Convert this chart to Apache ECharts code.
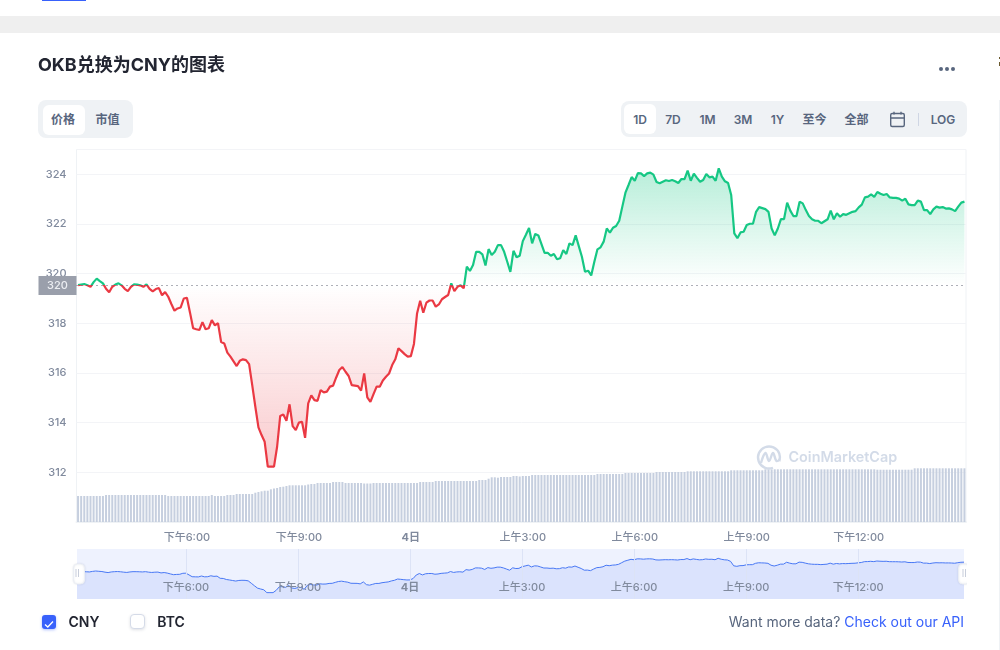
<!DOCTYPE html>
<html lang="zh">
<head>
<meta charset="utf-8">
<title>OKB兑换为CNY的图表</title>
<script src="https://cdn.jsdelivr.net/npm/echarts@6/dist/echarts.min.js"></script>
<style>
html,body{margin:0;padding:0;background:#fff;width:1000px;height:650px;overflow:hidden;font-family:Inter,"Noto Sans CJK SC",sans-serif;}
#chart{position:absolute;left:0;top:0;width:1000px;height:650px;}
.abs{position:absolute;}
.t{position:absolute;transform:translate(-50%,-50%);font-size:12px;font-weight:600;color:#58667e;white-space:nowrap;line-height:1;}
</style>
</head>
<body>
<div class="abs" style="left:42px;top:0;width:44px;height:1px;background:#3861fb"></div>
<div class="abs" style="left:0;top:16px;width:1000px;height:17px;background:#efefef"></div>
<div id="chart"></div>

<div class="abs" style="left:967px;top:555px;width:20px;height:40px;background:#fff"></div>
<div class="abs" style="left:939px;top:67px;width:4px;height:4px;border-radius:50%;background:#58667e"></div>
<div class="abs" style="left:945px;top:67px;width:4px;height:4px;border-radius:50%;background:#58667e"></div>
<div class="abs" style="left:951px;top:67px;width:4px;height:4px;border-radius:50%;background:#58667e"></div>
<div class="abs" style="left:999px;top:100px;width:1px;height:550px;background:#eff2f5"></div>
<div class="abs" style="left:999px;top:57px;width:1px;height:2px;background:#6b5a2e"></div>
<div class="abs" style="left:999px;top:62px;width:1px;height:4px;background:#6b5a2e"></div>

<div class="abs" style="left:38px;top:100px;width:95px;height:38px;border-radius:8px;background:#eff2f5"></div>
<div class="abs" style="left:43px;top:105px;width:42px;height:30px;border-radius:6px;background:#fff"></div>
<div class="t" style="left:63px;top:120px">价格</div>
<div class="t" style="left:107.5px;top:120px">市值</div>

<div class="abs" style="left:621px;top:101px;width:346px;height:36px;border-radius:8px;background:#eff2f5"></div>
<div class="abs" style="left:624px;top:104px;width:32px;height:30px;border-radius:6px;background:#fff"></div>
<div class="t" style="left:640px;top:120px">1D</div>
<div class="t" style="left:673px;top:120px">7D</div>
<div class="t" style="left:707.5px;top:120px">1M</div>
<div class="t" style="left:743px;top:120px">3M</div>
<div class="t" style="left:777.5px;top:120px">1Y</div>
<div class="t" style="left:814.5px;top:120px">至今</div>
<div class="t" style="left:856.5px;top:120px">全部</div>
<svg class="abs" style="left:889px;top:111px" width="17" height="17" viewBox="0 0 17 17" fill="none" stroke="#58667e" stroke-width="1.4"><rect x="1.7" y="2.5" width="13.6" height="13" rx="1.5"/><path d="M1.7 7H15.3M5 0.8V3.5M12 0.8V3.5"/></svg>
<div class="abs" style="left:918px;top:113px;width:1px;height:13px;background:#cfd6e4"></div>
<div class="t" style="left:943px;top:120px">LOG</div>

<div class="abs" style="left:42px;top:615px;width:14px;height:14px;border-radius:3px;background:#3861fb;box-shadow:0 1px 3px rgba(56,97,251,.4)">
<svg width="14" height="14" viewBox="0 0 14 14" fill="none" stroke="#fff" stroke-width="1.3"><path d="M3 7.4L5.8 10 11 4.5"/></svg></div>
<div class="t" style="left:84px;top:622px;font-size:14px;color:#222531">CNY</div>
<div class="abs" style="left:130px;top:614px;width:13px;height:13px;border-radius:4px;background:#fff;border:1px solid #d5dbe8;box-shadow:0 1px 3px rgba(88,102,126,.2)"></div>
<div class="t" style="left:171px;top:622px;font-size:14px;color:#222531">BTC</div>
<div class="abs" style="right:36px;top:613px;font-size:14px;line-height:17px;color:#58667e;white-space:nowrap">Want more data? <span style="color:#3861fb">Check out our API</span></div>

<script>
// ---- data ----
const baseline = 319.524;
const startMinute = 15 * 60 + 5; // first sample 15:05, one sample every 5 minutes
const tickIndex = [35, 71, 107, 143, 179, 215, 251];
const tickLabels = ['下午6:00', '下午9:00', '4日', '上午3:00', '上午6:00', '上午9:00', '下午12:00'];
const yTicks = [312, 314, 316, 318, 320, 322, 324];

const prices = [
319.54,319.56,319.58,319.53,319.47,319.66,319.80,319.70,319.61,319.39,
319.25,319.47,319.56,319.61,319.53,319.39,319.30,319.47,319.57,319.56,
319.53,319.47,319.57,319.39,319.29,319.38,319.42,319.13,319.26,319.07,
318.78,318.51,318.60,318.64,319.00,319.03,318.43,317.80,317.76,317.73,
318.05,317.76,317.80,318.13,317.92,318.01,317.25,317.19,316.82,316.66,
316.47,316.28,316.49,316.55,316.52,316.36,315.51,314.64,313.81,313.50,
313.23,312.23,312.23,312.23,313.03,314.27,314.33,314.08,314.74,313.86,
313.70,314.00,314.04,313.39,314.78,315.10,314.91,314.88,315.31,315.22,
315.25,315.45,315.49,315.82,316.12,316.24,316.05,315.88,315.51,315.49,
315.47,315.29,315.98,315.02,314.84,315.15,315.45,315.45,315.70,315.85,
315.98,316.32,316.55,316.99,316.88,316.76,316.66,316.68,317.17,318.40,
318.91,318.43,318.83,318.92,318.92,318.67,318.76,318.97,319.06,319.14,
319.61,319.30,319.47,319.53,319.41,320.28,320.11,320.35,320.88,320.88,
320.78,320.33,320.99,320.75,320.88,321.15,321.15,320.88,320.48,320.07,
320.92,320.66,320.72,321.31,321.57,321.84,321.22,321.60,321.54,321.19,
320.84,320.84,320.72,320.79,320.58,320.62,320.95,320.79,321.22,321.15,
321.54,321.11,320.68,320.08,320.12,319.93,320.48,320.98,321.06,321.29,
321.82,321.65,321.85,321.92,322.13,322.70,323.26,323.57,323.89,323.74,
324.05,324.04,323.93,324.04,324.07,323.99,323.69,323.64,323.70,323.76,
323.73,323.77,323.72,323.65,323.81,323.81,324.15,323.74,324.03,323.86,
323.70,323.77,324.01,323.88,323.91,323.74,324.24,323.91,323.72,323.65,
323.17,321.62,321.43,321.66,321.69,321.96,322.01,322.01,322.49,322.68,
322.64,322.60,322.49,321.82,321.54,321.82,322.20,322.20,322.86,322.54,
322.32,322.32,322.90,322.83,322.56,322.32,322.19,322.13,322.13,322.03,
322.11,322.19,322.54,322.19,322.43,322.29,322.40,322.37,322.43,322.49,
322.52,322.67,322.78,323.07,323.10,323.19,323.09,323.29,323.22,323.17,
323.21,323.07,323.05,323.05,323.02,322.94,323.02,322.79,322.76,322.76,
322.94,322.90,322.56,322.56,322.40,322.59,322.70,322.66,322.68,322.62,
322.63,322.59,322.52,322.70,322.86,322.90
];

const volumes = [
26,26,26,26,26,26,26,26,26,27,27,27,27,27,27,27,27,27,27,27,
27,27,27,27,27,27,27,27,27,26,26,26,26,26,26,26,26,26,26,26,
26,26,26,27,26,26,26,26,27,27,27,28,28,28,28,28,28,29.3,30,30.7,
31.3,31.3,32.7,33.5,34,35,35.3,36,36.7,36.7,36.7,36.7,36.7,36.7,37.5,38,38,39,39,39,
39,39,40,40,40,40,39,39,39,39,39,39,38.5,38.5,38.5,39,39,39,39,39,
39,39,39,39,39,39,39,39,39,39,40,40,40,40,40,41,41,41,41,41,
41,41,41,41,41,41,41,41,41,42,42,42,43.3,44.7,44.7,44.3,45,45,45,45,
46,46,45.5,46,46,46,47,47,47,47,47,47,47,47,47,47,47,47,47,47,
47,47,47,47,47,47,47,48,48,48,48,48,48,48,48,48,49,49,49,49,
49,49,49,49,49,49,50,50,50,50,50,50,50,50,50,50,50.7,50.7,50.7,50.7,
50.7,50.7,50.7,50.7,50.7,50.7,50.7,50.7,50.7,50.7,51.7,51.7,51.7,51.7,51.7,51.7,51.7,51.7,51.7,51.7,
51.7,52.7,52.7,52.7,52.7,52.7,52.7,52.7,52.7,52.7,52.7,52.7,52.7,52.7,52.7,52.7,52.7,52.7,52.7,52.7,
52.7,52.7,52.7,52.7,52.7,52.7,52.7,52.7,52.7,52.7,52.7,52.7,52.7,52.7,52.7,52.7,52.7,52.3,52.3,52.3,
52.3,52.3,52.3,52.3,52.3,52.3,52.3,52.3,52.3,53.7,53.7,53.7,53.7,53.7,53.7,53.7,53.7,53.7,53.7,53.7,
53.7,53.7,53.7,53.7,53.7,53.7
];

const categories = prices.map((_, i) => {
  const m = (startMinute + i * 5) % 1440;
  return String(Math.floor(m / 60)).padStart(2, '0') + ':' + String(m % 60).padStart(2, '0');
});

// ---- chart ----
const font = 'Inter, "Noto Sans CJK SC", sans-serif';
const isTick = (i) => tickIndex.indexOf(i) >= 0;
const tickText = (v, i) => {
  const t = tickLabels[tickIndex.indexOf(i)];
  return t === '4日' ? '{b|' + t + '}' : t;
};
const labelRich = { b: { fontFamily: font, fontSize: 11, fontWeight: 700, color: '#808a9d' } };

const chart = echarts.init(document.getElementById('chart'));
chart.setOption({
  animation: false,
  textStyle: { fontFamily: font },
  title: {
    text: 'OKB兑换为CNY的图表', left: 38, top: 56, padding: 0,
    textStyle: { fontFamily: font, fontSize: 18, fontWeight: 700, color: '#222531', lineHeight: 20 }
  },
  tooltip: { trigger: 'axis', show: false },
  grid: [
    { left: 76.5, top: 149.5, width: 889.5, height: 372.5, show: true, borderColor: '#eff2f5', borderWidth: 1, backgroundColor: 'transparent' },
    { left: 77, top: 549, width: 887, height: 50, show: true, borderWidth: 0, backgroundColor: '#eef2fe' }
  ],
  xAxis: [
    {
      type: 'category', gridIndex: 0, data: categories, boundaryGap: true,
      axisLine: { lineStyle: { color: '#eff2f5', width: 2 } },
      axisTick: { length: 4, alignWithLabel: true, interval: isTick, lineStyle: { color: '#9aa2b5' } },
      axisLabel: { interval: isTick, formatter: tickText, margin: 10, fontSize: 11, fontWeight: 500, fontFamily: font, color: '#808a9d', rich: labelRich },
      splitLine: { show: false }
    },
    {
      type: 'category', gridIndex: 1, data: categories, boundaryGap: false, z: 10,
      axisLine: { show: false }, axisTick: { show: false },
      axisLabel: { inside: true, interval: isTick, formatter: tickText, margin: 6, fontSize: 11, fontWeight: 500, fontFamily: font, color: '#808a9d', rich: labelRich },
      splitLine: { show: true, interval: isTick, lineStyle: { color: '#dce3f6', width: 1 } }
    }
  ],
  yAxis: [
    {
      type: 'value', gridIndex: 0, min: 310, max: 325, interval: 2,
      axisLine: { show: false }, axisTick: { show: false },
      axisLabel: { showMinLabel: false, showMaxLabel: false, margin: 10, fontSize: 11, fontWeight: 500, fontFamily: font, color: '#808a9d',
        formatter: (v) => (yTicks.indexOf(v) >= 0 ? String(v) : '') },
      splitLine: { lineStyle: { color: '#f3f4f7', width: 1 } }
    },
    { type: 'value', gridIndex: 0, min: 0, max: 372.5, show: false, splitLine: { show: false } },
    { type: 'value', gridIndex: 1, min: 310, max: 327.5, show: false, splitLine: { show: false } }
  ],
  visualMap: {
    show: false, type: 'piecewise', seriesIndex: 0, dimension: 1,
    pieces: [ { min: 300, max: baseline, color: '#ea3943' }, { min: baseline, max: 340, color: '#16c784' } ]
  },
  dataZoom: [{
    type: 'slider', xAxisIndex: [0], start: 0, end: 100, left: 77, right: 36, top: 549, height: 50,
    showDetail: false, showDataShadow: false, brushSelect: false, moveHandleSize: 0,
    backgroundColor: 'transparent', borderColor: 'transparent', fillerColor: 'transparent',
    handleIcon: 'path://M4,0H7A4,4 0 0 1 11,4V16A4,4 0 0 1 7,20H4A4,4 0 0 1 0,16V4A4,4 0 0 1 4,0Z',
    handleSize: 20,
    handleStyle: { color: '#fff', borderColor: '#eceff5', borderWidth: 1, shadowBlur: 2, shadowColor: 'rgba(88,102,126,.15)' },
    zoomLock: false
  }],
  graphic: [
    { type: 'arc', z: 100, silent: true, shape: { cx: 769, cy: 457.5, r: 11, startAngle: 1.2, endAngle: 0.35 + Math.PI * 2 }, style: { fill: 'none', stroke: '#d3dbe8', lineWidth: 2.4 } },
    { type: 'polyline', z: 100, silent: true, shape: { points: [[761, 463], [765.5, 453], [769, 461], [773, 453], [776.5, 461], [780, 459]], smooth: 0.4 }, style: { fill: 'none', stroke: '#d3dbe8', lineWidth: 2.4 } },
    { type: 'text', z: 100, silent: true, left: 788.5, top: 450, style: { text: 'CoinMarketCap', font: '600 14.4px ' + font, fill: '#d3dbe8' } },
    { type: 'rect', z: 100, silent: true, shape: { x: 75.5, y: 569, width: 1, height: 8 }, style: { fill: '#c8cedb' } },
    { type: 'rect', z: 100, silent: true, shape: { x: 78, y: 569, width: 1, height: 8 }, style: { fill: '#c8cedb' } },
    { type: 'rect', z: 100, silent: true, shape: { x: 962.5, y: 569, width: 1, height: 8 }, style: { fill: '#c8cedb' } },
    { type: 'rect', z: 100, silent: true, shape: { x: 965, y: 569, width: 1, height: 8 }, style: { fill: '#c8cedb' } }
  ],
  series: [
    {
      name: 'CNY', type: 'line', xAxisIndex: 0, yAxisIndex: 0, data: prices, z: 5,
      showSymbol: false, symbol: 'none', smooth: false,
      lineStyle: { width: 2.2 },
      areaStyle: {
        origin: baseline, opacity: 1,
        color: new echarts.graphic.LinearGradient(0, 170, 0, 470, [
          { offset: 0, color: 'rgba(22,199,132,0.30)' },
          { offset: 0.343, color: 'rgba(22,199,132,0.03)' },
          { offset: 0.383, color: 'rgba(22,199,132,0)' },
          { offset: 0.39, color: 'rgba(234,57,67,0)' },
          { offset: 0.423, color: 'rgba(234,57,67,0.02)' },
          { offset: 1, color: 'rgba(234,57,67,0.27)' }
        ], true)
      },
      markLine: {
        silent: true, symbol: 'none', z: 6,
        lineStyle: { type: [1, 4], width: 1, color: '#5c6170' },
        label: { position: 'start', distance: 19, formatter: '320', fontFamily: font, fontSize: 11, fontWeight: 500, color: '#eceef2',
          backgroundColor: '#9a9fab', width: 38, height: 19, lineHeight: 19, align: 'center' },
        data: [{ yAxis: baseline }]
      }
    },
    {
      name: 'Volume', type: 'bar', xAxisIndex: 0, yAxisIndex: 1, data: volumes, z: 2,
      barWidth: 2, itemStyle: { color: '#c6cfdf' }, silent: true
    },
    {
      name: 'Overview', type: 'line', xAxisIndex: 1, yAxisIndex: 2, data: prices, z: 3,
      showSymbol: false, symbol: 'none', silent: true,
      lineStyle: { width: 1, color: '#4878f5' },
      areaStyle: { color: '#dbe3fd', opacity: 1 }
    }
  ]
});
</script>
</body>
</html>
